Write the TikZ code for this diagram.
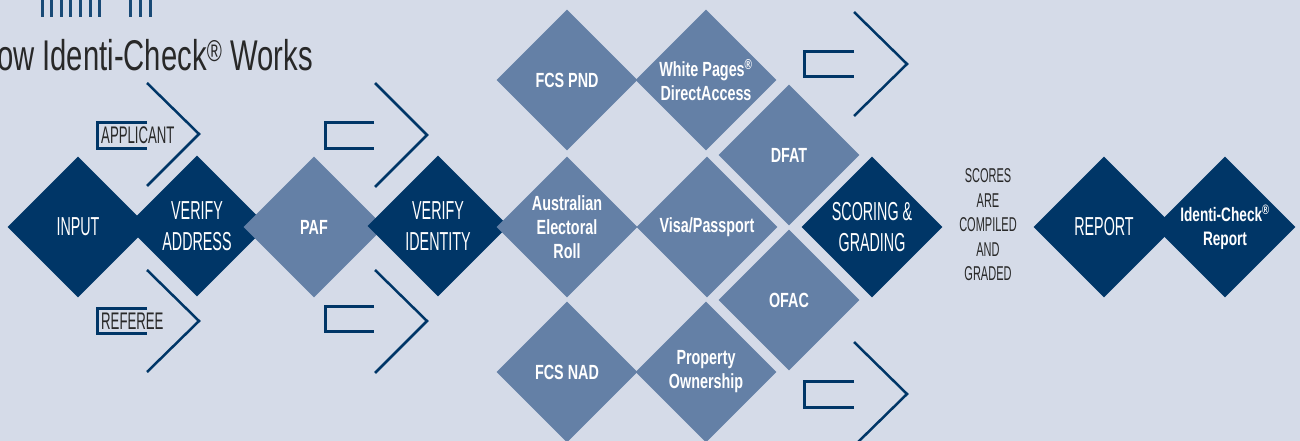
\documentclass[tikz,border=0pt]{standalone}
\usepackage{fontspec}
\setmainfont{Liberation Sans}[FakeStretch=0.55, BoldFeatures={FakeStretch=0.7}]
\newfontfamily\titlefont{Liberation Sans}[FakeStretch=0.68]
\usetikzlibrary{shapes.geometric}
\definecolor{bgblue}{RGB}{213,219,232}
\definecolor{navy}{RGB}{0,54,103}
\definecolor{steel}{RGB}{100,128,166}
\definecolor{ink}{RGB}{40,40,40}

\begin{document}
\begin{tikzpicture}[x=1pt, y=-1pt,
  dark/.style={diamond, aspect=1, fill=navy, text=white, minimum size=141pt, inner sep=0pt, align=center, font=\fontsize{26}{31}\selectfont},
  light/.style={diamond, aspect=1, fill=steel, text=white, minimum size=141pt, inner sep=0pt, align=center, font=\bfseries\fontsize{20.5}{24}\selectfont},
  chev/.style={navy, line width=2.5pt},
  bracket/.style={navy, line width=3pt},
  tag/.style={text=ink, inner sep=0pt, font=\fontsize{24}{26}\selectfont}]
\useasboundingbox[fill=bgblue] (0,0) rectangle (1300,441);

% cut-off heading at the top
\draw[navy!90!white, line width=3pt] (42,0)--(42,17) (51,0)--(51,17) (61,0)--(61,17) (70,0)--(70,17)
  (80,0)--(80,17) (90,0)--(90,17) (99,0)--(99,17) (130,0)--(130,17) (140,0)--(140,17) (150,0)--(150,17);
\node[anchor=base east, text=ink, inner sep=0pt, font=\titlefont\fontsize{43}{43}\selectfont] (title) at (313,71) {How Identi-Check\textsuperscript{®} Works};

% applicant / referee
\draw[chev] (147,83) -- (199,134) -- (147,186);
\draw[chev] (147,270) -- (199,321) -- (147,372);
\draw[bracket] (147,123) -- (97,123) -- (97,148) -- (147,148);
\draw[bracket] (147,308) -- (97,308) -- (97,333) -- (147,333);
\node[tag, anchor=west] (applicant) at (101,135) {APPLICANT};
\node[tag, anchor=west] (referee) at (101,321) {REFEREE};

% arrows round PAF
\draw[chev] (375,83) -- (427,135) -- (375,187);
\draw[chev] (375,270) -- (427,321) -- (375,373);
\draw[bracket] (374,123) -- (325,123) -- (325,148) -- (374,148);
\draw[bracket] (374,306) -- (325,306) -- (325,331) -- (374,331);

% arrows on the right
\draw[chev] (854,12) -- (907,64) -- (854,116);
\draw[chev] (854,342) -- (907,394) -- (854,446);
\draw[bracket] (854,52) -- (804,52) -- (804,77) -- (854,77);
\draw[bracket] (854,381) -- (804,381) -- (804,407) -- (854,407);

% diamonds
\node[dark] (input) at (78,227) {INPUT};
\node[dark] (vaddr) at (197,226) {VERIFY\\ADDRESS};
\node[light] (paf) at (314,227) {PAF};
\node[dark] (vid) at (438,226) {VERIFY\\IDENTITY};
\node[light] (fcspnd) at (567,80) {FCS PND};
\node[light] (roll) at (567,227) {Australian\\Electoral\\Roll};
\node[light] (fcsnad) at (567,372) {FCS NAD};
\node[light] (wpages) at (706,80) {White Pages\textsuperscript{®}\\DirectAccess};
\node[light] (visa) at (707,227) {Visa/Passport};
\node[light] (prop) at (706,372) {Property\\Ownership};
\node[light] (dfat) at (789,155) {DFAT};
\node[light] (ofac) at (789,300) {OFAC};
\node[dark] (scoring) at (872,227) {SCORING \&\\GRADING};
\node[text=ink, align=center, font=\fontsize{20}{24.5}\selectfont] (scores) at (988,225) {SCORES\\ARE\\COMPILED\\AND\\GRADED};
\node[dark] (report) at (1104,227) {REPORT};
\node[dark, font=\bfseries\fontsize{19.5}{23.5}\selectfont] (icreport) at (1225,227) {Identi-Check\textsuperscript{®}\\Report};
\end{tikzpicture}
\end{document}
